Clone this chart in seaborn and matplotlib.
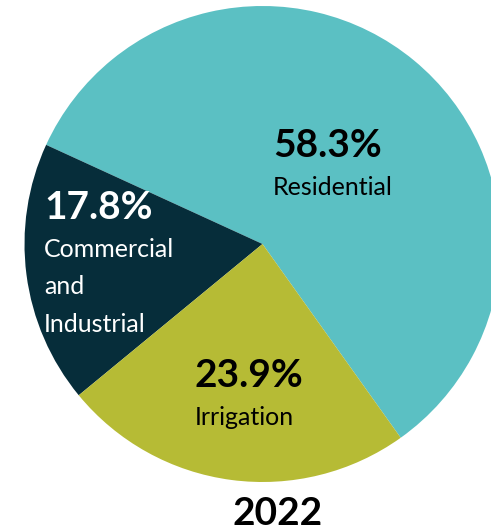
import matplotlib
matplotlib.use("Agg")
import matplotlib.pyplot as plt
import seaborn as sns

# Water use by sector, 2022
sectors = ["Residential", "Commercial\nand\nIndustrial", "Irrigation"]
shares = [58.3, 17.8, 23.9]
pct_labels = ["58.3%", "17.8%", "23.9%"]
colors = ["#5BC0C3", "#062D3A", "#B6BB35"]
text_colors = ["#000000", "#FFFFFF", "#000000"]
year = "2022"

sns.set_theme(style="white")
plt.rcParams["font.family"] = ["Lato", "DejaVu Sans"]

W, H = 491, 531
fig = plt.figure(figsize=(W / 100, H / 100), dpi=100)
ax = fig.add_axes([0, 0, 1, 1])

# pie geometry in pixels
cx, cy, r = 262.5, 244.0, 238.0
ax.pie(shares, colors=colors, startangle=-54.5, counterclock=True,
       radius=1, center=(0, 0), wedgeprops=dict(linewidth=0))
ax.set_xlim(-cx / r, (W - cx) / r)
ax.set_ylim(-(H - cy) / r, cy / r)
ax.set_aspect("auto")
ax.axis("off")


def fx(px):
    return px / W


def fy(py):
    return 1 - py / H


# label anchors (left edge, baseline of the percentage) in pixels
anchors = [(273, 157), (44, 219), (195, 387)]
line_gap = 37.5
for (x, y), pct, name, tc in zip(anchors, pct_labels, sectors, text_colors):
    fig.text(fx(x), fy(y), pct, fontsize=28, fontweight="bold", color=tc,
             ha="left", va="baseline")
    for i, line in enumerate(name.split("\n")):
        fig.text(fx(x), fy(y + 38 + i * line_gap), line, fontsize=18,
                 color=tc, ha="left", va="baseline")

fig.text(fx(277.5), fy(525), year, fontsize=28, fontweight="bold",
         color="#000000", ha="center", va="baseline")

fig.savefig("out.png", dpi=100, facecolor="white")
